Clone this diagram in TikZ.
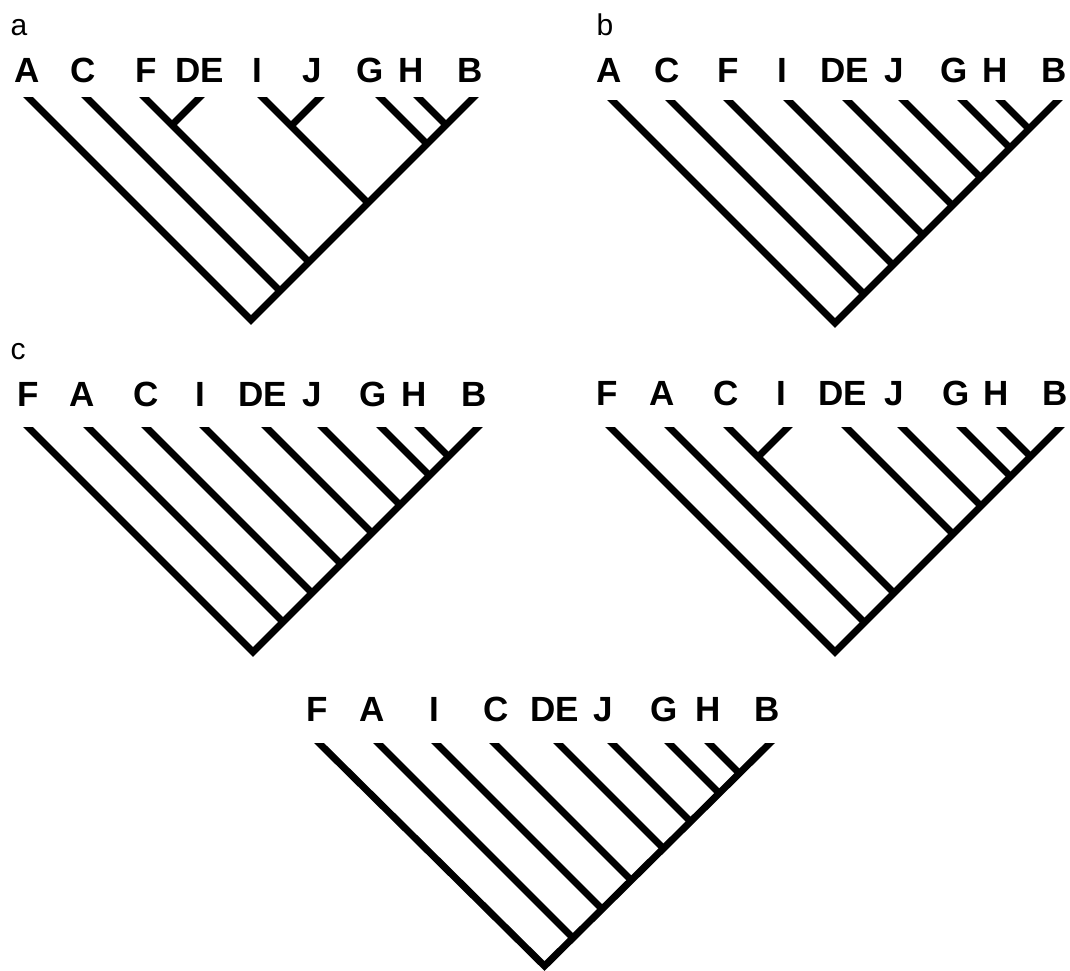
\documentclass[tikz,border=0pt]{standalone}
\usepackage{fontspec}
\setmainfont{Liberation Sans}
\newcommand\lbl{\fontsize{35}{35}\selectfont\bfseries}
\newcommand\pnl{\fontsize{30}{30}\selectfont}
\begin{document}
\begin{tikzpicture}[x=1pt,y=-1pt,
  br/.style={line width=7pt, line join=miter, line cap=butt, shorten <=-6pt},
  spine/.style={br, shorten >=-6pt},
  lab/.style={font=\lbl, anchor=base, inner sep=0pt},
  pan/.style={font=\pnl, anchor=base, inner sep=0pt}]
\useasboundingbox (0,0) rectangle (1070,970);

% ---------------- tree a ----------------
\node[pan] (pa) at (19,35) {a};
\node[lab] (aA) at (27,82) {A};
\node[lab] (aC) at (83,82) {C};
\node[lab] (aF) at (146,82) {F};
\node[lab] (aDE) at (200,82) {DE};
\node[lab] (aI) at (257,82) {I};
\node[lab] (aJ) at (312,82) {J};
\node[lab] (aG) at (370,82) {G};
\node[lab] (aH) at (411,82) {H};
\node[lab] (aB) at (470,82) {B};
\begin{scope}
\clip (0,97) rectangle (520,325);
\coordinate (a-A) at (28,97);
\coordinate (a-C) at (86,97);
\coordinate (a-F) at (144,97);
\coordinate (a-DE) at (200,97);
\coordinate (a-I) at (262,97);
\coordinate (a-J) at (320,97);
\coordinate (a-G) at (380,97);
\coordinate (a-H) at (418,97);
\coordinate (a-B) at (474,97);
\coordinate (a-root) at (251,320);
\coordinate (a-jC) at (280,291);
\coordinate (a-jF) at (309,262);
\coordinate (a-cF) at (172,125);
\coordinate (a-jI) at (368,203);
\coordinate (a-cI) at (291,126);
\coordinate (a-jG) at (427,144);
\coordinate (a-jH) at (446,125);
\draw[spine] (a-A) -- (a-root) -- (a-B);
\draw[br] (a-C) -- (a-jC);
\draw[br] (a-F) -- (a-jF);
\draw[br] (a-DE) -- (a-cF);
\draw[br] (a-I) -- (a-jI);
\draw[br] (a-J) -- (a-cI);
\draw[br] (a-G) -- (a-jG);
\draw[br] (a-H) -- (a-jH);
\end{scope}

% ---------------- tree b ----------------
\node[pan] (pb) at (605,35) {b};
\node[lab] (bA) at (609,82) {A};
\node[lab] (bC) at (667,82) {C};
\node[lab] (bF) at (728,82) {F};
\node[lab] (bI) at (782,82) {I};
\node[lab] (bDE) at (845,82) {DE};
\node[lab] (bJ) at (894,82) {J};
\node[lab] (bG) at (954,82) {G};
\node[lab] (bH) at (995,82) {H};
\node[lab] (bB) at (1054,82) {B};
\begin{scope}
\clip (580,100) rectangle (1070,328);
\coordinate (b-A) at (612,100);
\coordinate (b-C) at (670,100);
\coordinate (b-F) at (728,100);
\coordinate (b-I) at (788,100);
\coordinate (b-DE) at (847,100);
\coordinate (b-J) at (903,100);
\coordinate (b-G) at (962,100);
\coordinate (b-H) at (1000,100);
\coordinate (b-B) at (1058,100);
\coordinate (b-root) at (835,323);
\coordinate (b-jC) at (864,294);
\coordinate (b-jF) at (893,265);
\coordinate (b-jI) at (923,235);
\coordinate (b-jDE) at (952.5,205.5);
\coordinate (b-jJ) at (980.5,177.5);
\coordinate (b-jG) at (1010,148);
\coordinate (b-jH) at (1029,129);
\draw[spine] (b-A) -- (b-root) -- (b-B);
\draw[br] (b-C) -- (b-jC);
\draw[br] (b-F) -- (b-jF);
\draw[br] (b-I) -- (b-jI);
\draw[br] (b-DE) -- (b-jDE);
\draw[br] (b-J) -- (b-jJ);
\draw[br] (b-G) -- (b-jG);
\draw[br] (b-H) -- (b-jH);
\end{scope}

% ---------------- tree c ----------------
\node[pan] (pc) at (18,359) {c};
\node[lab] (cF) at (28,406) {F};
\node[lab] (cA) at (82,406) {A};
\node[lab] (cC) at (146,406) {C};
\node[lab] (cI) at (200,406) {I};
\node[lab] (cDE) at (263,406) {DE};
\node[lab] (cJ) at (312,406) {J};
\node[lab] (cG) at (373,406) {G};
\node[lab] (cH) at (414,406) {H};
\node[lab] (cB) at (474,406) {B};
\begin{scope}
\clip (0,427) rectangle (520,657);
\coordinate (c-F) at (28,427);
\coordinate (c-A) at (88,427);
\coordinate (c-C) at (146,427);
\coordinate (c-I) at (204,427);
\coordinate (c-DE) at (266,427);
\coordinate (c-J) at (322,427);
\coordinate (c-G) at (381,427);
\coordinate (c-H) at (419,427);
\coordinate (c-B) at (478,427);
\coordinate (c-root) at (253,652);
\coordinate (c-jA) at (283,622);
\coordinate (c-jC) at (312,593);
\coordinate (c-jI) at (341,564);
\coordinate (c-jDE) at (372,533);
\coordinate (c-jJ) at (400,505);
\coordinate (c-jG) at (429.5,475.5);
\coordinate (c-jH) at (448.5,456.5);
\draw[spine] (c-F) -- (c-root) -- (c-B);
\draw[br] (c-A) -- (c-jA);
\draw[br] (c-C) -- (c-jC);
\draw[br] (c-I) -- (c-jI);
\draw[br] (c-DE) -- (c-jDE);
\draw[br] (c-J) -- (c-jJ);
\draw[br] (c-G) -- (c-jG);
\draw[br] (c-H) -- (c-jH);
\end{scope}

% ---------------- tree d ----------------
\node[lab] (dF) at (607.5,405) {F};
\node[lab] (dA) at (662,405) {A};
\node[lab] (dC) at (726,405) {C};
\node[lab] (dI) at (781,405) {I};
\node[lab] (dDE) at (843,405) {DE};
\node[lab] (dJ) at (894,405) {J};
\node[lab] (dG) at (956,405) {G};
\node[lab] (dH) at (996,405) {H};
\node[lab] (dB) at (1055,405) {B};
\begin{scope}
\clip (580,427) rectangle (1070,657);
\coordinate (d-F) at (610,427);
\coordinate (d-A) at (669,427);
\coordinate (d-C) at (728,427);
\coordinate (d-I) at (788,427);
\coordinate (d-DE) at (846,427);
\coordinate (d-J) at (902,427);
\coordinate (d-G) at (961,427);
\coordinate (d-H) at (1001,427);
\coordinate (d-B) at (1060,427);
\coordinate (d-root) at (835,652);
\coordinate (d-jA) at (864.5,622.5);
\coordinate (d-jC) at (894,593);
\coordinate (d-cC) at (758,457);
\coordinate (d-jDE) at (953,534);
\coordinate (d-jJ) at (981,506);
\coordinate (d-jG) at (1010.5,476.5);
\coordinate (d-jH) at (1030.5,456.5);
\draw[spine] (d-F) -- (d-root) -- (d-B);
\draw[br] (d-A) -- (d-jA);
\draw[br] (d-C) -- (d-jC);
\draw[br] (d-I) -- (d-cC);
\draw[br] (d-DE) -- (d-jDE);
\draw[br] (d-J) -- (d-jJ);
\draw[br] (d-G) -- (d-jG);
\draw[br] (d-H) -- (d-jH);
\end{scope}

% ---------------- tree e ----------------
\node[lab] (eF) at (317.5,721) {F};
\node[lab] (eA) at (372.5,721) {A};
\node[lab] (eI) at (434,721) {I};
\node[lab] (eC) at (496,721) {C};
\node[lab] (eDE) at (554.5,721) {DE};
\node[lab] (eJ) at (603,721) {J};
\node[lab] (eG) at (664,721) {G};
\node[lab] (eH) at (708,721) {H};
\node[lab] (eB) at (767,721) {B};
\begin{scope}
\clip (290,743) rectangle (800,975);
\coordinate (e-F) at (319,743);
\coordinate (e-A) at (378,743);
\coordinate (e-I) at (436,743);
\coordinate (e-C) at (494,743);
\coordinate (e-DE) at (558,743);
\coordinate (e-J) at (612,743);
\coordinate (e-G) at (669,743);
\coordinate (e-H) at (709,743);
\coordinate (e-B) at (770,743);
\coordinate (e-root) at (544.5,966);
\coordinate (e-jA) at (574,939);
\coordinate (e-jI) at (603,910);
\coordinate (e-jC) at (632,881);
\coordinate (e-jDE) at (664,849);
\coordinate (e-jJ) at (691,822);
\coordinate (e-jG) at (719.5,793.5);
\coordinate (e-jH) at (739.5,773.5);
\draw[spine] (e-F) -- (e-root) -- (e-B);
\draw[br] (e-A) -- (e-jA);
\draw[br] (e-I) -- (e-jI);
\draw[br] (e-C) -- (e-jC);
\draw[br] (e-DE) -- (e-jDE);
\draw[br] (e-J) -- (e-jJ);
\draw[br] (e-G) -- (e-jG);
\draw[br] (e-H) -- (e-jH);
\end{scope}
\end{tikzpicture}
\end{document}
